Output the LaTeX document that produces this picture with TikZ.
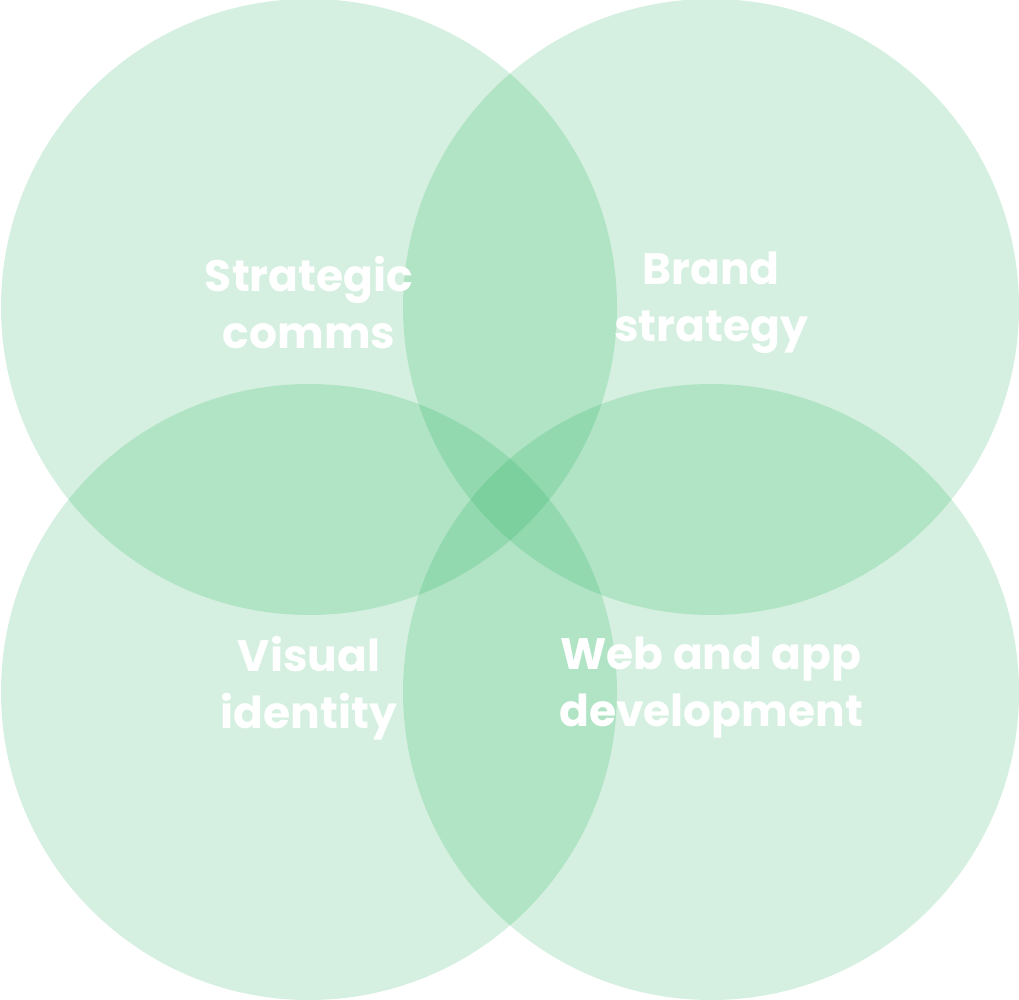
\documentclass[tikz,border=0pt]{standalone}
\usepackage{fontspec}
\setmainfont{Poppins}
\begin{document}
\begin{tikzpicture}[x=1pt,y=1pt,
  venn/.style={fill={rgb,255:red,3;green,165;blue,69},fill opacity=0.167,draw=none},
  lbl/.style={text=white,font=\fontsize{44}{57}\selectfont\bfseries,align=center}]
\useasboundingbox (0,0) rectangle (1019,1000);
\fill[venn] (309,693) circle (308);
\fill[venn] (711,693) circle (308);
\fill[venn] (309,308) circle (308);
\fill[venn] (711,308) circle (308);
\node[lbl] (a) at (309,697) {Strategic\\comms};
\node[lbl] (b) at (711,697) {Brand\\strategy};
\node[lbl] (c) at (309,312) {Visual\\identity};
\node[lbl] (d) at (711,312) {Web and app\\development};
\end{tikzpicture}
\end{document}
